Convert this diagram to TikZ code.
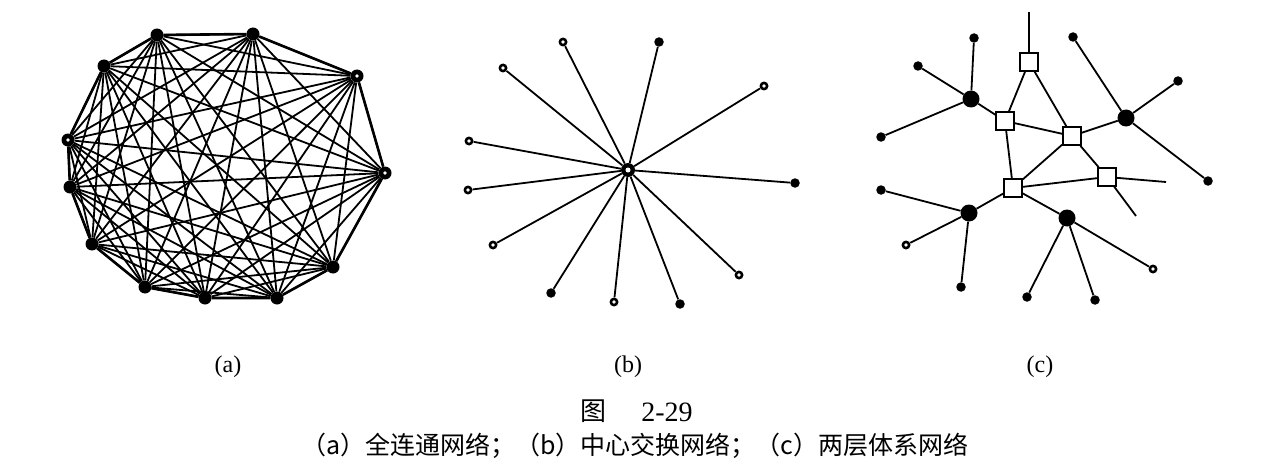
\documentclass[tikz,border=0pt]{standalone}
\usepackage{fontspec}
\setmainfont{Liberation Serif}
\newfontfamily\cjk{Noto Sans CJK SC}
\begin{document}
\begin{tikzpicture}[x=1pt,y=-1pt,
  edge/.style={line width=1.8pt},
  rim/.style={line width=2.6pt},
  bigdot/.style={circle,fill=black,inner sep=0pt,minimum size=13pt},
  ringdot/.style={bigdot,path picture={\fill[white] (path picture bounding box.center) circle (1.8pt);}},
  centerdot/.style={circle,fill=black,inner sep=0pt,minimum size=14pt,path picture={\fill[white] (path picture bounding box.center) circle (2.5pt);}},
  leafo/.style={circle,fill=black,inner sep=0pt,minimum size=9pt,path picture={\fill[white] (path picture bounding box.center) circle (1.8pt);}},
  leaff/.style={circle,fill=black,inner sep=0pt,minimum size=9.5pt},
  hub/.style={circle,fill=black,inner sep=0pt,minimum size=17pt},
  sw/.style={rectangle,draw=black,fill=white,line width=1.6pt,inner sep=0pt,minimum size=18pt},
  lbl/.style={font=\fontsize{24}{26}\selectfont}
]
\useasboundingbox (0,0) rectangle (1265,468);
\fill[white] (0,0) rectangle (1265,468);

% ---------- (a) fully connected ----------
\node[bigdot] (a1) at (157,35) {};
\node[bigdot] (a2) at (253,34) {};
\node[ringdot] (a3) at (357,76) {};
\node[ringdot] (a4) at (385,173) {};
\node[bigdot] (a5) at (333,267) {};
\node[bigdot] (a6) at (277,298) {};
\node[bigdot] (a7) at (205,298) {};
\node[bigdot] (a8) at (145,287) {};
\node[bigdot] (a9) at (92,244) {};
\node[bigdot] (a10) at (70,187) {};
\node[ringdot] (a11) at (68,140) {};
\node[bigdot] (a12) at (104,66) {};
\foreach \i in {1,...,11}{
  \pgfmathtruncatemacro\s{\i+1}
  \foreach \j in {\s,...,12}{
    \draw[edge] (a\i) -- (a\j);
  }
}
\draw[rim] (a1)--(a2) (a2)--(a3) (a3)--(a4) (a4)--(a5) (a5)--(a6) (a6)--(a7)
  (a7)--(a8) (a8)--(a9) (a9)--(a10) (a10)--(a11) (a11)--(a12) (a12)--(a1);

% ---------- (b) star ----------
\node[centerdot] (bc) at (628,170) {};
\node[leafo] (b1) at (563,42) {};
\node[leaff] (b2) at (659,42) {};
\node[leafo] (b3) at (503,68) {};
\node[leafo] (b4) at (764,86) {};
\node[leafo] (b5) at (469,141) {};
\node[leaff] (b6) at (795,183) {};
\node[leafo] (b7) at (468,190) {};
\node[leafo] (b8) at (493,245) {};
\node[leafo] (b9) at (739,275) {};
\node[leaff] (b10) at (551,293) {};
\node[leafo] (b11) at (614,302) {};
\node[leaff] (b12) at (680,304) {};
\foreach \k in {1,...,12}{ \draw[edge] (bc) -- (b\k); }

% ---------- (c) two-level ----------
\node[sw] (s1) at (1029,62) {};
\node[sw] (s2) at (1005,121) {};
\node[sw] (s3) at (1072,136) {};
\node[sw] (s4) at (1107,177) {};
\node[sw] (s5) at (1013,188) {};
\node[hub] (h1) at (971,99) {};
\node[hub] (h2) at (1126,118) {};
\node[hub] (h3) at (969,213) {};
\node[hub] (h4) at (1067,218) {};
\node[leaff] (l1) at (974,38) {};
\node[leaff] (l2) at (918,66) {};
\node[leaff] (l3) at (881,137) {};
\node[leaff] (l4) at (1073,37) {};
\node[leaff] (l5) at (1178,81) {};
\node[leaff] (l6) at (1208,181) {};
\node[leaff] (l7) at (881,190) {};
\node[leafo] (l8) at (906,245) {};
\node[leaff] (l9) at (961,287) {};
\node[leaff] (l10) at (1027,297) {};
\node[leaff] (l11) at (1095,300) {};
\node[leafo] (l12) at (1153,269) {};
\coordinate (ct) at (1029,12);
\coordinate (ce1) at (1166,182);
\coordinate (ce2) at (1136,216);
\draw[edge] (s1)--(ct);
\draw[edge] (s1)--(s2) (s1)--(s3) (s2)--(s3) (s2)--(s5) (s3)--(s5) (s3)--(s4) (s5)--(s4);
\draw[edge] (s4)--(ce1) (s4)--(ce2);
\draw[edge] (h1)--(s2) (h2)--(s3) (h3)--(s5) (h4)--(s5);
\draw[edge] (h1)--(l1) (h1)--(l2) (h1)--(l3);
\draw[edge] (h2)--(l4) (h2)--(l5) (h2)--(l6);
\draw[edge] (h3)--(l7) (h3)--(l8) (h3)--(l9);
\draw[edge] (h4)--(l10) (h4)--(l11) (h4)--(l12);

% ---------- labels ----------
\node[lbl] (la) at (228,367) {(a)};
\node[lbl] (lb) at (628,367) {(b)};
\node[lbl] (lc) at (1040,367) {(c)};
\node[font=\cjk\fontsize{26}{28}\selectfont] (fig) at (593,411) {图};
\node[font=\fontsize{28}{30}\selectfont] (num) at (667,412) {2-29};
\node[font=\cjk\fontsize{25}{28}\selectfont] (cap) at (635,446) {（a）全连通网络；（b）中心交换网络；（c）两层体系网络};
\end{tikzpicture}
\end{document}
